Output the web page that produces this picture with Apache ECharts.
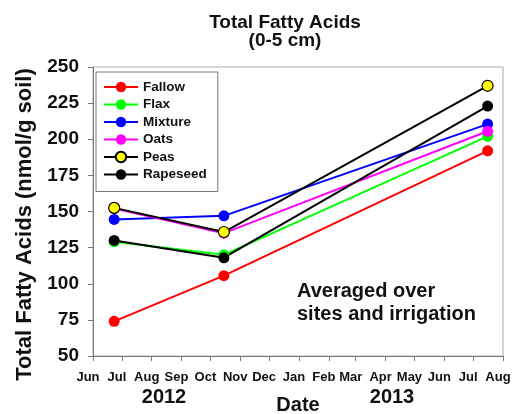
<!DOCTYPE html>
<html>
<head>
<meta charset="utf-8">
<script src="https://cdn.jsdelivr.net/npm/echarts@6/dist/echarts.min.js"></script>
<style>
  html, body { margin: 0; background: #fff; }
  #chart { width: 512px; height: 414px; }
</style>
</head>
<body>
<div id="chart"></div>
<script>
// sampling dates (x) and total fatty acids (nmol/g soil) per crop
const sampleDates = ['2012-06-23', '2012-10-15', '2013-07-16'];
const fallow = [74, 105.6, 192];
const flax = [129, 120, 202];
const mixture = [144.5, 147, 210.5];
const oats = [152, 135, 205.5];
const peas = [152.5, 135.8, 237];
const rapeseed = [130, 118, 223];

const crops = ['Fallow', 'Flax', 'Mixture', 'Oats', 'Peas', 'Rapeseed'];
const cropValues = [fallow, flax, mixture, oats, peas, rapeseed];
const monthLabels = ['Jan', 'Feb', 'Mar', 'Apr', 'May', 'Jun', 'Jul', 'Aug', 'Sep', 'Oct', 'Nov', 'Dec'];
const yearLabels = ['2012', '2013'];
const axisRange = ['2012-06-01', '2013-08-01'];

const FONT = '"Liberation Sans", Arial, sans-serif';
const fillColors = ['#ff0000', '#00ff00', '#0000ff', '#ff00ff', '#ffff00', '#000000'];
const lineColors = ['#ff0000', '#00ff00', '#0000ff', '#ff00ff', '#000000', '#000000'];

const chart = echarts.init(document.getElementById('chart'), null, { renderer: 'canvas' });

const series = crops.map((name, k) => ({
  type: 'line',
  name,
  data: sampleDates.map((d, i) => [d, cropValues[k][i]]),
  symbol: 'circle',
  symbolSize: 11,
  showSymbol: true,
  animation: false,
  lineStyle: { width: 2, color: lineColors[k] },
  itemStyle: {
    color: fillColors[k],
    borderColor: lineColors[k],
    borderWidth: name === 'Peas' ? 1.2 : 0
  }
}));

chart.setOption({
  backgroundColor: '#fff',
  animation: false,
  textStyle: { fontFamily: FONT },
  grid: {
    left: 93, right: 9, top: 67, bottom: 58,
    outerBoundsMode: 'none',
    show: true, borderColor: '#aaa', borderWidth: 1
  },
  legend: {
    orient: 'vertical',
    left: 96,
    top: 72,
    itemWidth: 34,
    itemHeight: 13,
    itemGap: 1.5,
    padding: [7, 11, 9, 7],
    borderColor: '#777',
    borderWidth: 1,
    textStyle: { fontSize: 13.5, lineHeight: 16, fontWeight: 'bold', color: '#111', fontFamily: FONT },
    data: crops
  },
  xAxis: {
    type: 'time',
    min: axisRange[0],
    max: axisRange[1],
    splitNumber: 14,
    minInterval: 28 * 86400000,
    maxInterval: 31 * 86400000,
    name: 'Date',
    nameLocation: 'middle',
    nameGap: 39,
    nameTextStyle: { fontSize: 20, fontWeight: 'bold', color: '#111', fontFamily: FONT },
    axisLine: { show: true, lineStyle: { color: '#777', width: 1 } },
    axisTick: { show: true, inside: false, length: 5, lineStyle: { color: '#777' } },
    axisLabel: {
      show: true,
      interval: 0,
      hideOverlap: false,
      showMinLabel: true,
      showMaxLabel: true,
      margin: 15,
      padding: [0, 10, 0, 0],
      fontSize: 13,
      fontWeight: 'bold',
      color: '#111',
      fontFamily: FONT,
      formatter: (val) => monthLabels[new Date(val).getMonth()]
    },
    splitLine: { show: false }
  },
  yAxis: {
    type: 'value',
    min: 50,
    max: 250,
    interval: 25,
    name: 'Total Fatty Acids (nmol/g soil)',
    nameLocation: 'middle',
    nameGap: 57,
    nameTextStyle: { fontSize: 22, fontWeight: 'bold', color: '#111', fontFamily: FONT, padding: [0, 26, 0, 0] },
    axisLine: { show: true, lineStyle: { color: '#777', width: 1 } },
    axisTick: { show: true, inside: false, length: 5, lineStyle: { color: '#777' } },
    axisLabel: { margin: 14, fontSize: 19, fontWeight: 'bold', color: '#111', fontFamily: FONT },
    splitLine: { show: false }
  },
  graphic: [
    {
      type: 'text', x: 285, y: 23,
      style: { text: 'Total Fatty Acids', fill: '#111', font: 'bold 19px ' + FONT, align: 'center', verticalAlign: 'middle' }
    },
    {
      type: 'text', x: 285, y: 41,
      style: { text: '(0-5 cm)', fill: '#111', font: 'bold 19px ' + FONT, align: 'center', verticalAlign: 'middle' }
    },
    {
      type: 'text', x: 164, y: 397,
      style: { text: yearLabels[0], fill: '#111', font: 'bold 20px ' + FONT, align: 'center', verticalAlign: 'middle' }
    },
    {
      type: 'text', x: 392, y: 397,
      style: { text: yearLabels[1], fill: '#111', font: 'bold 20px ' + FONT, align: 'center', verticalAlign: 'middle' }
    },
    {
      type: 'text', x: 297, y: 291,
      style: { text: 'Averaged over', fill: '#111', font: 'bold 20px ' + FONT, align: 'left', verticalAlign: 'middle' }
    },
    {
      type: 'text', x: 297, y: 314,
      style: { text: 'sites and irrigation', fill: '#111', font: 'bold 20px ' + FONT, align: 'left', verticalAlign: 'middle' }
    }
  ],
  series
});
</script>
</body>
</html>
